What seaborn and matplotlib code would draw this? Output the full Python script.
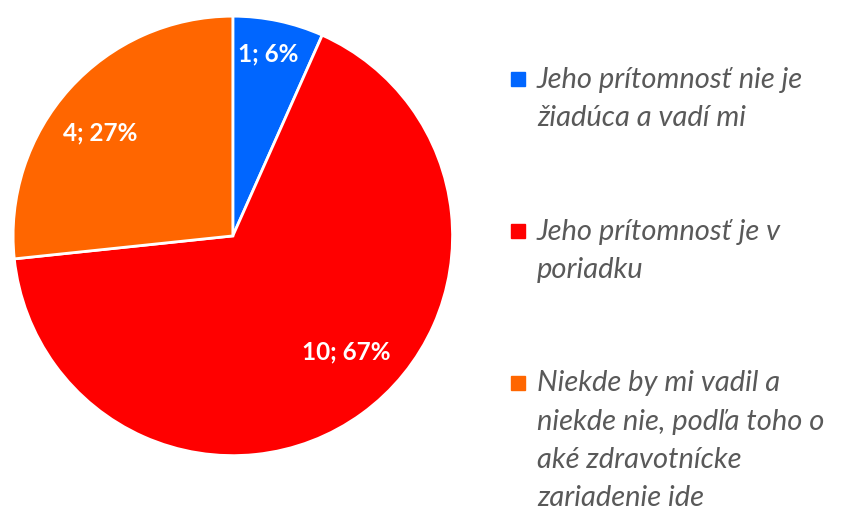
import numpy as np
import matplotlib.pyplot as plt
import seaborn as sns
from matplotlib.lines import Line2D

sns.set_theme(style='white')
plt.rcParams['font.family'] = ['Lato', 'DejaVu Sans']

# data
labels = ['Jeho prítomnosť nie je\nžiadúca a vadí mi',
          'Jeho prítomnosť je v\nporiadku',
          'Niekde by mi vadil a\nniekde nie, podľa toho o\naké zdravotnícke\nzariadenie ide']
counts = [1, 10, 4]
percents = [6, 67, 27]
colors = ['#0066FF', '#FF0000', '#FF6600']

fig = plt.figure(figsize=(8.51, 5.10), dpi=100)
ax = fig.add_axes([0.0141, 0.102, 0.519, 0.867])

wedges, _ = ax.pie(counts, colors=colors, startangle=90, counterclock=False,
                   wedgeprops=dict(edgecolor='white', linewidth=2))
ax.set_xlim(-1.005, 1.005)
ax.set_ylim(-1.005, 1.005)
ax.set_aspect('equal')

# data labels (value; percent) inside slices
label_r = [0.85, 0.735, 0.765]
label_shift = [1, 8.5, 4]  # degrees
for w, c, p, r, s in zip(wedges, counts, percents, label_r, label_shift):
    ang = np.deg2rad((w.theta1 + w.theta2) / 2 + s)
    ax.text(r * np.cos(ang), r * np.sin(ang), f'{c}; {p}%',
            ha='center', va='center', color='white', fontsize=17.5, fontweight='bold')

# legend on the right, marker aligned with first line
line_h = 38 / 510
y = 1 - 88 / 510
for lab, col in zip(labels, colors):
    n = lab.count('\n') + 1
    fig.add_artist(Line2D([518 / 851], [y + 8 / 510], marker='s', markersize=9.4, color=col,
                          transform=fig.transFigure, linestyle='none'))
    # baseline alignment anchors the last line, so step down from the first
    fig.text(537 / 851, y - (n - 1) * line_h, lab, ha='left', va='baseline', fontsize=21,
             style='italic', color='#595959', linespacing=1.58,
             transform=fig.transFigure)
    y -= line_h * (n + 2)

fig.savefig('out.png', dpi=100)
